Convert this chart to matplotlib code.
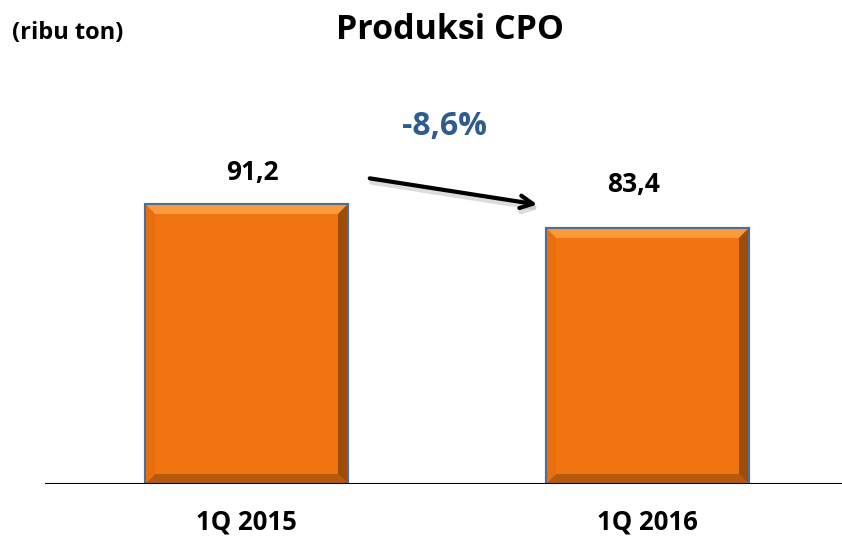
import matplotlib
matplotlib.use('Agg')
import matplotlib.pyplot as plt
from matplotlib.patches import Polygon

# data
categories = ['1Q 2015', '1Q 2016']
values = [91.2, 83.4]
value_labels = ['91,2', '83,4']
change_label = '-8,6%'

# label placement (offsets from bar top / centre, data units)
label_dy = [10.4, 14.3]
label_dx = [0.014, -0.036]

FONT = 'Open Sans'
BAR_COLOR = '#F07511'

fig = plt.figure(figsize=(8.42, 5.38), dpi=100)
W, H = 842, 538
# axes: left 45px, right edge, baseline at y=484px, top at y=100px
ax = fig.add_axes([45 / W, (H - 484) / H, (W - 45) / W, 384 / H])
ax.set_xlim(-0.5025, 1.485)
ax.set_ylim(0, 384 / (280 / 91.2))

x = list(range(len(categories)))
bars = ax.bar(x, values, width=0.506, color=BAR_COLOR, edgecolor='#5A7BA3', linewidth=1.5, zorder=2)

# simple bevel on each bar, sized in data units from the bar rect
px_x = (ax.get_xlim()[1] - ax.get_xlim()[0]) / ((W - 45))
px_y = (ax.get_ylim()[1]) / 384
b = 10
for r in bars:
    x0, y0 = r.get_x(), r.get_y()
    x1, y1 = x0 + r.get_width(), y0 + r.get_height()
    bx, by = b * px_x, b * px_y
    top = [(x0, y1), (x1, y1), (x1 - bx, y1 - by), (x0 + bx, y1 - by)]
    right = [(x1, y1), (x1, y0), (x1 - bx, y0 + by), (x1 - bx, y1 - by)]
    bottom = [(x0, y0), (x1, y0), (x1 - bx, y0 + by), (x0 + bx, y0 + by)]
    left = [(x0, y0), (x0, y1), (x0 + bx, y1 - by), (x0 + bx, y0 + by)]
    ax.add_patch(Polygon(top, closed=True, facecolor='#F99A3C', edgecolor='none', zorder=3))
    ax.add_patch(Polygon(right, closed=True, facecolor='#9E4C0A', edgecolor='none', zorder=3))
    ax.add_patch(Polygon(bottom, closed=True, facecolor='#B65A0E', edgecolor='none', zorder=3))
    ax.add_patch(Polygon(left, closed=True, facecolor='#E86E0E', edgecolor='none', zorder=3))
    ax.add_patch(plt.Rectangle((x0, y0), x1 - x0, y1 - y0, fill=False,
                               edgecolor='#4F6E96', linewidth=1.5, zorder=4))

for xi, v, lab, dx, dy in zip(x, values, value_labels, label_dx, label_dy):
    ax.text(xi + dx, v + dy, lab, ha='center', va='center', fontsize=19,
            fontweight='bold', family=FONT, color='black')

# axis baseline
ax.axhline(0, color='black', linewidth=1.5, zorder=5)
for s in ax.spines.values():
    s.set_visible(False)
ax.set_xticks(x)
ax.set_xticklabels(categories, fontsize=18.5, fontweight='bold', family=FONT)
ax.tick_params(axis='x', length=0, pad=18)
ax.set_yticks([])

# change arrow with soft shadow
ax.annotate('', xy=(0.737, 89.6), xytext=(0.305, 98.4),
            arrowprops=dict(arrowstyle='->,head_length=0.9,head_width=0.45', color='#BBBBBB',
                            lw=3.5, alpha=0.5), zorder=5)
ax.annotate('', xy=(0.732, 90.9), xytext=(0.3005, 99.7),
            arrowprops=dict(arrowstyle='->,head_length=0.9,head_width=0.45', color='black', lw=3),
            zorder=6)
ax.text(0.4925, 116.3, change_label, ha='center', va='center', fontsize=23,
        fontweight='bold', family=FONT, color='#2E5C91')

fig.text(12 / W, 1 - 33 / H, '(ribu ton)', ha='left', va='center', fontsize=17,
         fontweight='bold', family=FONT)
fig.text(450 / W, 1 - 30 / H, 'Produksi CPO', ha='center', va='center', fontsize=24.5,
         fontweight='bold', family=FONT)

fig.savefig('out.png', dpi=100)
